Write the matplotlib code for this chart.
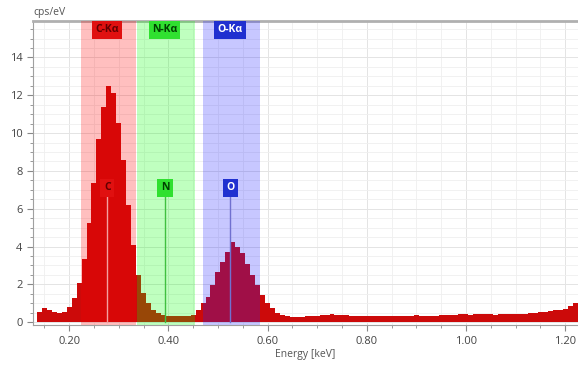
import numpy as np
import matplotlib
matplotlib.use('Agg')
import matplotlib.pyplot as plt
from matplotlib.ticker import MultipleLocator

plt.rcParams['font.family'] = ['Open Sans', 'DejaVu Sans']

# spectrum, 10 eV channels starting at 0.14 keV
e_start = 0.14
e_step = 0.01
counts = [
    0.55, 0.76, 0.62, 0.52, 0.48, 0.55, 0.80, 1.27, 2.06, 3.33,
    5.25, 7.35, 9.68, 11.40, 12.49, 12.10, 10.55, 8.60, 6.20, 4.07,
    2.49, 1.52, 1.00, 0.63, 0.46, 0.40, 0.35, 0.32, 0.31, 0.30,
    0.32, 0.40, 0.63, 1.00, 1.34, 1.96, 2.66, 3.19, 3.72, 4.25,
    4.00, 3.63, 3.10, 2.48, 1.96, 1.43, 1.00, 0.74, 0.50, 0.40,
    0.33, 0.28, 0.27, 0.28, 0.30, 0.33, 0.35, 0.37, 0.40, 0.42,
    0.40, 0.38, 0.36, 0.35, 0.33, 0.32, 0.31, 0.30, 0.32, 0.30,
    0.31, 0.33, 0.32, 0.34, 0.33, 0.35, 0.37, 0.34, 0.33, 0.35,
    0.34, 0.36, 0.37, 0.38, 0.40, 0.41, 0.42, 0.40, 0.44, 0.42,
    0.41, 0.43, 0.40, 0.42, 0.44, 0.41, 0.43, 0.42, 0.45, 0.46,
    0.48, 0.52, 0.55, 0.58, 0.62, 0.66, 0.72, 0.85, 1.00,
]
energy = e_start + e_step * np.arange(len(counts))

# element windows (keV)
band_names = ['C-Kα', 'N-Kα', 'O-Kα']
band_lo = [0.224, 0.336, 0.470]
band_hi = [0.334, 0.454, 0.584]
band_colors = ['#ff0000', '#00ff00', '#2020ff']
box_colors = ['#e01010', '#30e030', '#2030d0']
text_colors = ['#600000', '#004000', 'white']

# element lines
elem_names = ['C', 'N', 'O']
elem_pos = [0.277, 0.393, 0.525]
line_colors = ['#f4a0a0', '#40c040', '#7070d0']

fig = plt.figure(figsize=(5.78, 3.67), dpi=100)
ax = fig.add_axes([0.057, 0.114, 0.943, 0.829])

ax.bar(energy, counts, width=e_step, color='#cc0a0a', linewidth=0, zorder=2)

for lo, hi, c in zip(band_lo, band_hi, band_colors):
    ax.axvspan(lo, hi, color=c, alpha=0.25, linewidth=0, zorder=3)

for name, lo, hi, bc, tc in zip(band_names, band_lo, band_hi, box_colors, text_colors):
    ax.text((lo + hi) / 2 - 0.003, 15.45, name, ha='center', va='center', fontsize=7.5,
            fontweight='bold', color=tc, zorder=6,
            bbox=dict(boxstyle='square,pad=0.3', fc=bc, ec='none'))

for name, x, lc, bc, tc in zip(elem_names, elem_pos, line_colors, box_colors, text_colors):
    ax.plot([x, x], [0, 6.8], color=lc, lw=1, zorder=4)
    ax.text(x, 7.1, name, ha='center', va='center', fontsize=7.5, fontweight='bold',
            color=tc, zorder=6,
            bbox=dict(boxstyle='square,pad=0.35', fc=bc, ec='none'))

ax.set_xlim(0.127, 1.226)
ax.set_ylim(-0.16, 15.93)

ax.xaxis.set_major_locator(MultipleLocator(0.2))
ax.xaxis.set_minor_locator(MultipleLocator(0.05))
ax.yaxis.set_major_locator(MultipleLocator(2))
ax.yaxis.set_minor_locator(MultipleLocator(0.5))
ax.xaxis.set_major_formatter(plt.FuncFormatter(lambda v, p: '%.2f' % v))

ax.grid(which='major', color='#e4e4e4', lw=0.7, zorder=0)
ax.grid(which='minor', color='#efefef', lw=0.6, zorder=0)
ax.set_axisbelow(True)

ax.tick_params(which='both', colors='#888888', labelcolor='#444444', labelsize=8)
ax.tick_params(which='major', length=4, width=0.8)
ax.tick_params(which='minor', length=2, width=0.6)

ax.spines['right'].set_visible(False)
ax.spines['top'].set_color('#b0b0b0')
ax.spines['top'].set_linewidth(2)
ax.spines['left'].set_color('#a0a0a0')
ax.spines['bottom'].set_color('#a0a0a0')

ax.set_xlabel('Energy [keV]', fontsize=7.5, color='#555555', labelpad=2)
fig.text(0.057, 0.965, 'cps/eV', fontsize=7.5, color='#555555', va='center')

fig.savefig('out.png', dpi=100)
